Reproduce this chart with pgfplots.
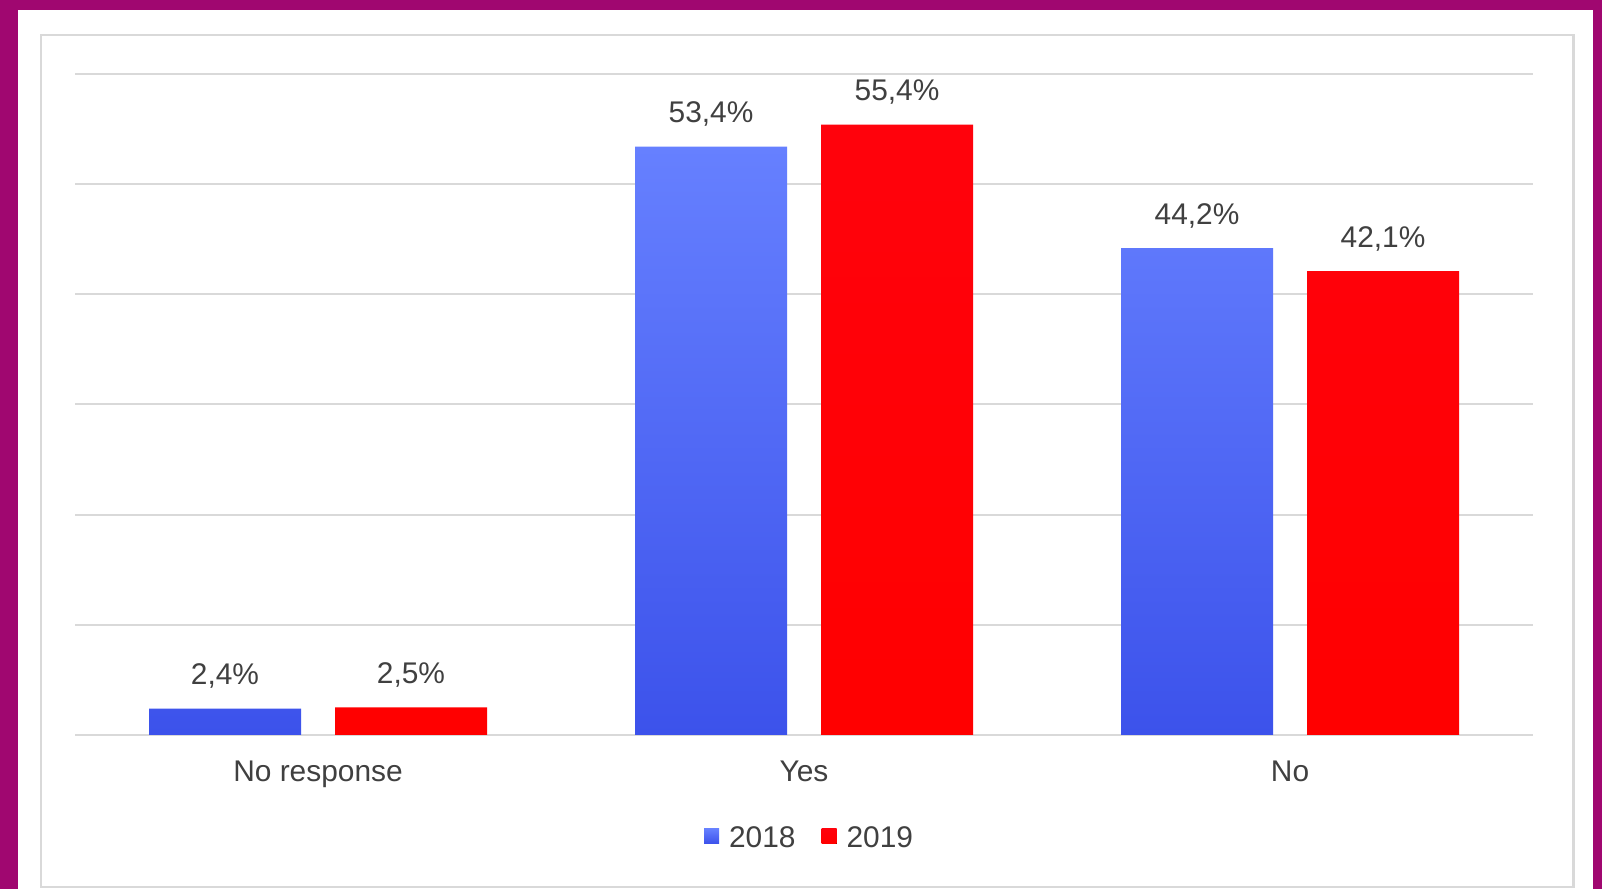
\documentclass[border=0pt]{standalone}
\usepackage{pgfplots}
\pgfplotsset{compat=1.18}
\usepackage{fontspec}
\setmainfont{Liberation Sans}
\definecolor{frameM}{RGB}{160,7,112}
\definecolor{gridc}{RGB}{217,217,217}
\definecolor{txt}{RGB}{64,64,64}
\definecolor{bTop}{RGB}{102,128,255}
\definecolor{bBot}{RGB}{60,82,235}
\definecolor{rTop}{RGB}{255,2,12}
\definecolor{rBot}{RGB}{255,0,0}
\begin{document}
\begin{tikzpicture}[x=0.5bp,y=0.5bp]
\useasboundingbox (0,0) rectangle (1602,889);
\fill[frameM] (0,0) rectangle (1602,889);
\fill[white] (18,0) rectangle (1593,879);
\draw[gridc, line width=1.25bp] (41,2) rectangle (1573.5,854);
\begin{axis}[
  at={(37.5bp,77bp)}, anchor=south west, scale only axis,
  width=729bp, height=330.5bp,
  xmin=-0.5, xmax=2.5, ymin=0, ymax=60,
  ybar=17bp, bar width=76bp,
  xtick={0,1,2}, xticklabels={No response,Yes,No},
  ytick={0,10,...,60}, yticklabels={},
  ymajorgrids, grid style={gridc, line width=1bp},
  axis line style={draw=none},
  major tick length=0pt,
  /pgf/number format/assume math mode=true,
  tick label style={font=\fontsize{15}{18}\selectfont, text=txt},
  xticklabel style={anchor=base, yshift=-23.5bp},
  nodes near coords={\pgfmathprintnumber[fixed,fixed zerofill,precision=1,use comma,assume math mode=true]{\pgfplotspointmeta}\%},
  nodes near coords style={anchor=base, yshift=12bp, font=\fontsize{15}{18}\selectfont, text=txt, inner sep=0pt},
  legend style={draw=none, fill=none, legend columns=2, at={(0.5045,-0.156)}, anchor=center,
    font=\fontsize{15}{18}\selectfont, text=txt,
    /tikz/every even column/.append style={column sep=11bp}},
  legend image code/.code={\fill[#1] (0bp,-2.75bp) rectangle (7.5bp,4.75bp); \path (10.5bp,0bp);},
  clip=false,
]
\addplot[draw=none, top color=bTop, bottom color=bBot] coordinates {(0,2.4) (1,53.4) (2,44.2)};
\addplot[draw=none, top color=rTop, bottom color=rBot] coordinates {(0,2.5) (1,55.4) (2,42.1)};
\legend{2018,2019}
\end{axis}
\end{tikzpicture}
\end{document}
